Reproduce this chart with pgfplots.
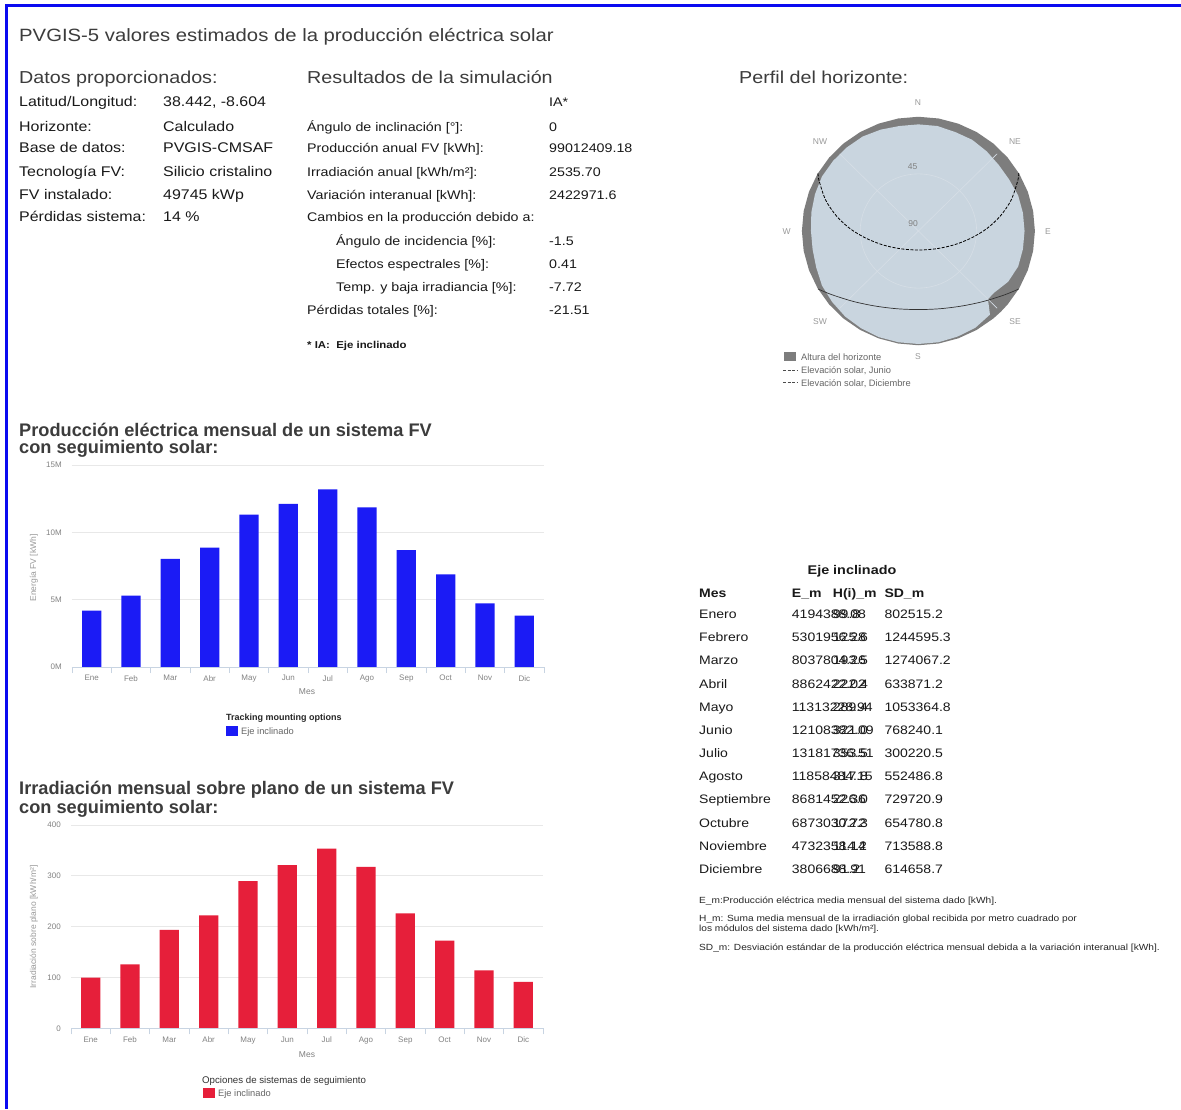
\documentclass[border=0pt]{standalone}
\usepackage{fontspec}
\setmainfont{Liberation Sans}[FakeStretch=1.14]
\newfontfamily\plainfont{Liberation Sans}
\usepackage{pgfplots}
\usepackage{pgfplotstable}
\usepgfplotslibrary{polar}
\pgfplotsset{compat=1.18}

\definecolor{pvblue}{RGB}{10,10,240}
\definecolor{barblue}{RGB}{27,27,245}
\definecolor{barred}{RGB}{230,31,58}
\definecolor{gridcol}{RGB}{232,232,232}
\definecolor{basecol}{RGB}{200,212,226}
\definecolor{tickcol}{RGB}{130,130,130}
\definecolor{headcol}{RGB}{60,60,60}
\definecolor{txtcol}{RGB}{25,25,25}
\definecolor{skycol}{RGB}{201,213,223}
\definecolor{ringcol}{RGB}{125,125,125}
\definecolor{polgrid}{RGB}{214,222,230}

\newcommand\fs[1]{\fontsize{#1}{#1}\selectfont}
\tikzset{t/.style={anchor=mid west, inner sep=0pt, yshift=-2.5pt}}

% monthly values, tracking system on inclined axis
\pgfplotstableread{
m mes E H SD
0 Enero 4194388.08 99.8 802515.2
1 Febrero 5301956.28 125.6 1244595.3
2 Marzo 8037804.26 193.5 1274067.2
3 Abril 8862422.02 222.4 633871.2
4 Mayo 11313228.94 289.4 1053364.8
5 Junio 12108382.09 321.0 768240.1
6 Julio 13181736.51 353.5 300220.5
7 Agosto 11858484.15 317.8 552486.8
8 Septiembre 8681452.36 226.0 729720.9
9 Octubre 6873030.72 172.3 654780.8
10 Noviembre 4732358.14 114.2 713588.8
11 Diciembre 3806688.91 91.2 614658.7
}\pvdata

% horizon height (deg) by azimuth from north
\pgfplotstableread{
az h
0 6
10 6
20 7
30 7
40 8
50 9
60 9
70 8
80 8
90 8
100 8
110 8
120 10
130 14
135 14
140 4
150 2
160 1.5
170 1
180 1
190 1
200 1
210 1.5
220 2
230 3
240 4
250 6
260 7
270 7
280 6
290 5
300 4
310 4
320 4
330 4
340 5
350 6
360 6
}\horizon

% sun paths: polar angle (deg, east = 0), radius = 90 - elevation
\pgfplotstableread{
t r
30.5 90
27.4 86.5
18.8 75.7
10.5 64.3
1.9 52.7
-8.0 40.9
-21.7 29.6
-45.2 19.7
-90 15
-134.8 19.7
-158.3 29.6
-172 40.9
-181.9 52.7
-190.5 64.3
-198.8 75.7
-207.4 86.5
-210.5 90
}\junio

\pgfplotstableread{
t r
-30.5 90
-36.9 83.6
-47.8 74.9
-60.3 68.0
-74.6 63.5
-90 61.9
-105.4 63.5
-119.7 68.0
-132.2 74.9
-143.1 83.6
-149.5 90
}\diciembre

\pgfplotsset{pvbar/.style={
  scale only axis, width=472pt,
  xmin=-0.5, xmax=11.5, xtick={0,...,11},
  xticklabels={Ene,Feb,Mar,Abr,May,Jun,Jul,Ago,Sep,Oct,Nov,Dic},
  major tick length=0pt,
  xtick pos=left, ytick pos=left,
  extra x ticks={-0.5,0.5,...,11.5},
  extra x tick labels={},
  extra x tick style={major tick length=6pt, tick align=outside,
    tick style={draw=basecol, line width=0.7pt}, grid=none},
  ymajorgrids, grid style={draw=gridcol, line width=0.7pt},
  axis line style={draw=none},
  tick label style={font=\plainfont\fs{8}, text=tickcol},
  xticklabel style={yshift=-8pt},
  yticklabel style={xshift=-10pt},
  scaled y ticks=false,
  ybar, bar width=0.49,
  clip=false,
}}

\begin{document}
\begin{tikzpicture}[every node/.style={inner sep=0pt}]
\path[use as bounding box] (0,0) rectangle (1181pt,-1109pt);
\fill[white] (0,0) rectangle (1181pt,-1109pt);
\draw[line width=2.2pt, pvblue] (5pt,-5.5pt) -- (1181pt,-5.5pt);
\draw[line width=2.2pt, pvblue] (6.5pt,-5pt) -- (6.5pt,-1109pt);

% header
\node[t, yshift=-1.5pt, font=\fs{17.8}, text=headcol] at (19pt,-35pt)
  {PVGIS-5 valores estimados de la producción eléctrica solar};
\node[t, yshift=-0.5pt, font=\fs{17.3}, text=headcol] at (19pt,-78pt) {Datos proporcionados:};
\node[t, yshift=-0.5pt, font=\fs{17.3}, text=headcol] at (307pt,-78pt) {Resultados de la simulación};
\node[t, yshift=-0.5pt, font=\fs{17.3}, text=headcol] at (739pt,-78pt) {Perfil del horizonte:};

% provided data
\begin{scope}[every node/.style={t, font=\fs{14}, text=txtcol}]
\node at (19pt,-101.7pt) {Latitud/Longitud:};   \node at (163pt,-101.7pt) {38.442, -8.604};
\node at (19pt,-126pt) {Horizonte:};            \node at (163pt,-126pt) {Calculado};
\node at (19pt,-147.7pt) {Base de datos:};      \node at (163pt,-147.7pt) {PVGIS-CMSAF};
\node at (19pt,-171.7pt) {Tecnología FV:};      \node at (163pt,-171.7pt) {Silicio cristalino};
\node at (19pt,-194pt) {FV instalado:};         \node at (163pt,-194pt) {49745 kWp};
\node at (19pt,-216.7pt) {Pérdidas sistema:};   \node at (163pt,-216.7pt) {14 \%};
\end{scope}

% simulation results
\begin{scope}[every node/.style={t, font=\fs{12.5}, text=txtcol}]
\node at (549pt,-101.7pt) {IA*};
\node at (307pt,-126pt) {Ángulo de inclinación [°]:};       \node at (549pt,-126pt) {0};
\node at (307pt,-147.7pt) {Producción anual FV [kWh]:};     \node at (549pt,-147.7pt) {99012409.18};
\node at (307pt,-171.7pt) {Irradiación anual [kWh/m²]:};    \node at (549pt,-171.7pt) {2535.70};
\node at (307pt,-194pt) {Variación interanual [kWh]:};      \node at (549pt,-194pt) {2422971.6};
\node at (307pt,-216.7pt) {Cambios en la producción debido a:};
\node at (336pt,-240pt) {Ángulo de incidencia [\%]:};       \node at (549pt,-240pt) {-1.5};
\node at (336pt,-263.3pt) {Efectos espectrales [\%]:};      \node at (549pt,-263.3pt) {0.41};
\node at (336pt,-286.7pt) {Temp. y baja irradiancia [\%]:}; \node at (549pt,-286.7pt) {-7.72};
\node at (307pt,-309.3pt) {Pérdidas totales [\%]:};         \node at (549pt,-309.3pt) {-21.51};
\node[font=\bfseries\fs{10}] at (307pt,-343.3pt) {* IA:\ \ Eje inclinado};
\end{scope}

% horizon profile
\begin{axis}[at={(918.4pt,-231pt)}, anchor=center, scale only axis,
  width=233pt, height=228.5pt, xmin=-90, xmax=90, ymin=-90, ymax=90,
  hide axis, clip=false]
\addplot[fill=ringcol, draw=none, data cs=polar]
  table[x expr=90-\thisrow{az}, y expr=90] {\horizon};
\addplot[fill=skycol, draw=none, data cs=polar]
  table[x expr=90-\thisrow{az}, y expr=90-\thisrow{h}] {\horizon};
\addplot[polgrid, line width=0.6pt, data cs=polar] coordinates {(45,86) (225,86)};
\addplot[polgrid, line width=0.6pt, data cs=polar] coordinates {(135,86) (315,86)};
\draw[polgrid, line width=0.6pt] (axis cs:0,0) circle[x radius=58.2pt, y radius=57.1pt];
\addplot[black, line width=0.8pt, dash pattern=on 3pt off 1.5pt, smooth, data cs=polar]
  table[x=t, y=r] {\junio};
\addplot[black!80, line width=0.7pt, smooth, data cs=polar]
  table[x=t, y=r] {\diciembre};
\end{axis}
\begin{scope}[every node/.style={inner sep=0pt, font=\plainfont\fs{8.5}, text=black!40}]
\node at (918pt,-103pt) {N};
\node at (1015pt,-141.7pt) {NE};
\node at (1048pt,-231.7pt) {E};
\node at (1015pt,-321.7pt) {SE};
\node at (918pt,-356.7pt) {S};
\node at (820pt,-321.7pt) {SW};
\node at (786.7pt,-231.7pt) {W};
\node at (820pt,-141.7pt) {NW};
\node[text=black!50] at (912.5pt,-167pt) {45};
\node[text=black!50] at (913pt,-224pt) {90};
\end{scope}
\fill[ringcol] (784pt,-352pt) rectangle (796pt,-361pt);
\draw[black!70, line width=0.7pt, dash pattern=on 3pt off 1.5pt] (783pt,-370pt) -- (797pt,-370pt);
\draw[black!70, line width=0.7pt, dash pattern=on 3pt off 1.5pt] (783pt,-382.7pt) -- (797pt,-382.7pt);
\begin{scope}[every node/.style={t, yshift=1.5pt, font=\plainfont\fs{9.3}, text=black!60}]
\node at (801pt,-356.7pt) {Altura del horizonte};
\node at (801pt,-370pt) {Elevación solar, Junio};
\node at (801pt,-382.7pt) {Elevación solar, Diciembre};
\end{scope}

% monthly PV energy
\node[t, yshift=-1.5pt, font=\plainfont\bfseries\fs{18.2}, text=headcol] at (19pt,-430pt)
  {Producción eléctrica mensual de un sistema FV};
\node[t, yshift=-1.5pt, font=\plainfont\bfseries\fs{18.2}, text=headcol] at (19pt,-446.7pt)
  {con seguimiento solar:};
\begin{axis}[pvbar, at={(72pt,-667pt)}, anchor=south west, height=202pt,
  ymin=0, ymax=15000000, ytick={0,5000000,10000000,15000000},
  yticklabels={0M,5M,10M,15M}]
\addplot[fill=barblue, draw=none] table[x=m, y=E] {\pvdata};
\draw[basecol, line width=0.9pt] (axis cs:-0.5,0) -- (axis cs:11.5,0);
\end{axis}
\node[rotate=90, font=\plainfont\fs{8.5}, text=black!40] at (34pt,-568pt) {Energía FV [kWh]};
\node[font=\plainfont\fs{8.5}, text=black!50] at (307pt,-692pt) {Mes};
\node[t, yshift=1.5pt, font=\plainfont\bfseries\fs{9}, text=black!85] at (226pt,-717pt)
  {Tracking mounting options};
\fill[barblue] (226pt,-726pt) rectangle (238pt,-735.5pt);
\node[t, yshift=1.5pt, font=\plainfont\fs{9.3}, text=black!60] at (241pt,-731pt) {Eje inclinado};

% monthly in-plane irradiation
\node[t, yshift=-1.5pt, font=\plainfont\bfseries\fs{18.2}, text=headcol] at (19pt,-788pt)
  {Irradiación mensual sobre plano de un sistema FV};
\node[t, yshift=-1.5pt, font=\plainfont\bfseries\fs{18.2}, text=headcol] at (19pt,-806.7pt)
  {con seguimiento solar:};
\begin{axis}[pvbar, at={(71pt,-1028.3pt)}, anchor=south west, height=203.3pt,
  ymin=0, ymax=400, ytick={0,100,200,300,400},
  yticklabels={0,100,200,300,400}]
\addplot[fill=barred, draw=none] table[x=m, y=H] {\pvdata};
\draw[basecol, line width=0.9pt] (axis cs:-0.5,0) -- (axis cs:11.5,0);
\end{axis}
\node[rotate=90, font=\plainfont\fs{8.5}, text=black!40] at (34pt,-927pt) {Irradiación sobre plano [kWh/m²]};
\node[font=\plainfont\fs{8.5}, text=black!50] at (307pt,-1055pt) {Mes};
\node[t, yshift=1.5pt, font=\plainfont\fs{9.7}, text=black!80] at (202pt,-1079.5pt)
  {Opciones de sistemas de seguimiento};
\fill[barred] (203pt,-1088pt) rectangle (215pt,-1097.5pt);
\node[t, yshift=1.5pt, font=\plainfont\fs{9.3}, text=black!60] at (218pt,-1093pt) {Eje inclinado};

% monthly table
\node[yshift=-2.5pt, font=\bfseries\fs{12.6}, text=txtcol] at (852pt,-568.3pt) {Eje inclinado};
\begin{scope}[every node/.style={t, font=\bfseries\fs{12.3}, text=txtcol}]
\node at (699pt,-592.3pt) {Mes};
\node at (791.7pt,-592.3pt) {E\_m};
\node at (832.7pt,-592.3pt) {H(i)\_m};
\node at (884.3pt,-592.3pt) {SD\_m};
\end{scope}
\foreach \r in {0,...,11} {
  \pgfplotstablegetelem{\r}{mes}\of\pvdata \let\vmes\pgfplotsretval
  \pgfplotstablegetelem{\r}{E}\of\pvdata \let\vE\pgfplotsretval
  \pgfplotstablegetelem{\r}{H}\of\pvdata \let\vH\pgfplotsretval
  \pgfplotstablegetelem{\r}{SD}\of\pvdata \let\vSD\pgfplotsretval
  \pgfmathsetmacro\yy{613.5+23.15*\r}
  \node[t, font=\fs{12.3}, text=txtcol] at (699pt,{-\yy*1pt}) {\vmes};
  \node[t, font=\fs{12.3}, text=txtcol] at (791.7pt,{-\yy*1pt}) {\vE};
  \node[t, font=\fs{12.3}, text=txtcol] at (832.7pt,{-\yy*1pt}) {\vH};
  \node[t, font=\fs{12.3}, text=txtcol] at (884.3pt,{-\yy*1pt}) {\vSD};
}
\begin{scope}[every node/.style={t, yshift=1.5pt, font=\fs{8.9}, text=black!85}]
\node at (699pt,-900pt) {E\_m:Producción eléctrica media mensual del sistema dado [kWh].};
\node at (699pt,-918pt) {H\_m: Suma media mensual de la irradiación global recibida por metro cuadrado por};
\node at (699pt,-928pt) {los módulos del sistema dado [kWh/m²].};
\node at (699pt,-947pt) {SD\_m: Desviación estándar de la producción eléctrica mensual debida a la variación interanual [kWh].};
\end{scope}
\end{tikzpicture}
\end{document}
